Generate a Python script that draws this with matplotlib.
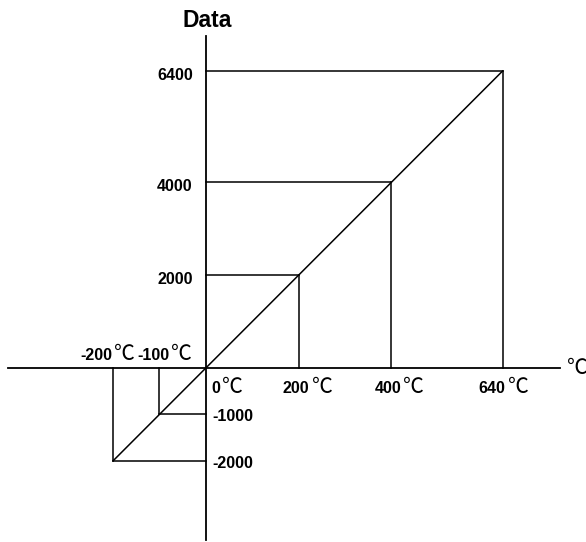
import matplotlib
matplotlib.use('Agg')
import matplotlib.pyplot as plt

# temperature (deg C) vs digital data
temps = [-200, -100, 200, 400, 640]
data = [-2000, -1000, 2000, 4000, 6400]
temp_labels = ['-200', '-100', '200', '400', '640']
data_labels = ['-2000', '-1000', '2000', '4000', '6400']

# label nudges in pixels (layout only)
temp_dx = [-1, 10, 11, 10, 3]

num_font = dict(family='Liberation Sans', weight='bold', fontsize=11.5)
deg_font = dict(family=['Noto Sans CJK SC', 'DejaVu Sans'], weight='light', fontsize=15)

fig = plt.figure(figsize=(5.86, 5.42), dpi=100)
ax = fig.add_axes([0, 0, 1, 1])
ax.set_xlim(-444, 820)
ax.set_ylim(-3750, 7931)
ax.axis('off')

lw = 1.1
# axes
ax.plot([-427, 764], [0, 0], color='black', lw=1.3)
ax.plot([0, 0], [-3707, 7155], color='black', lw=1.3)

# diagonal
ax.plot([temps[0], temps[-1]], [data[0], data[-1]], color='black', lw=lw)

# guide lines
for t, d in zip(temps, data):
    ax.plot([t, t], [0, d], color='black', lw=lw)
    ax.plot([0, t], [d, d], color='black', lw=lw)

def deg_label(x, num, dx, dy):
    ax.annotate(num, (x, 0), xytext=(dx, dy), textcoords='offset pixels',
                ha='right', va='baseline', **num_font)
    ax.annotate('\u2103', (x, 0), xytext=(dx + 2, dy), textcoords='offset pixels',
                ha='left', va='baseline', **deg_font)

# temperature labels
for t, lab, dx in zip(temps, temp_labels, temp_dx):
    if t < 0:
        deg_label(t, lab, dx, 8)
    else:
        deg_label(t, lab, dx, -25)
deg_label(0, '0', 14, -25)

# data labels
for d, lab in zip(data, data_labels):
    if d > 0:
        ax.annotate(lab, (0, d), xytext=(-13, -9), textcoords='offset pixels',
                    ha='right', va='baseline', **num_font)
    else:
        ax.annotate(lab, (0, d), xytext=(7, -7), textcoords='offset pixels',
                    ha='left', va='baseline', **num_font)

# axis titles
ax.annotate('Data', (0, 7155), xytext=(1, 9), textcoords='offset pixels',
            ha='center', va='baseline', family='Liberation Sans', weight='bold',
            fontsize=16.5)
ax.annotate('\u2103', (764, 0), xytext=(17, 0), textcoords='offset pixels',
            ha='center', va='center', **deg_font)

fig.savefig('out.png', dpi=100)
plt.close()
